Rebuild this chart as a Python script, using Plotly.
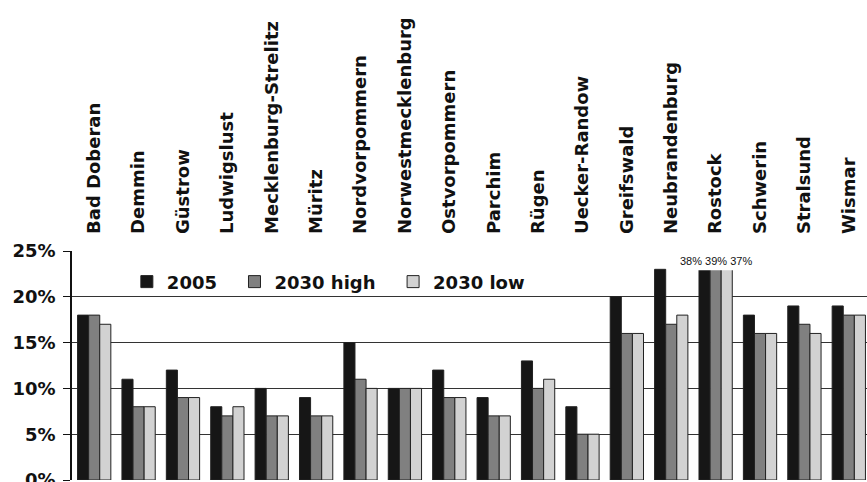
import plotly.graph_objects as go

districts = ["Bad Doberan", "Demmin", "Güstrow", "Ludwigslust", "Mecklenburg-Strelitz",
             "Müritz", "Nordvorpommern", "Norwestmecklenburg", "Ostvorpommern", "Parchim",
             "Rügen", "Uecker-Randow", "Greifswald", "Neubrandenburg", "Rostock",
             "Schwerin", "Stralsund", "Wismar"]
v2005 = [18, 11, 12, 8, 10, 9, 15, 10, 12, 9, 13, 8, 20, 23, 38, 18, 19, 19]
v2030_high = [18, 8, 9, 7, 7, 7, 11, 10, 9, 7, 10, 5, 16, 17, 39, 16, 17, 18]
v2030_low = [17, 8, 9, 8, 7, 7, 10, 10, 9, 7, 11, 5, 16, 18, 37, 16, 16, 18]
series_names = ["2005", "2030 high", "2030 low"]
y_ticks = [0, 5, 10, 15, 20, 25]
y_tick_labels = ["0%", "5%", "10%", "15%", "20%", "25%"]
broken_district = "Rostock"

FONT = "DejaVu Sans"
colors = ["#161616", "#808080", "#d2d2d2"]
PAD = "\u00a0\u00a0"

fig = go.Figure()
for name, vals, col in zip(series_names, [v2005, v2030_high, v2030_low], colors):
    fig.add_trace(go.Bar(
        x=districts, y=vals, name=name + PAD,
        marker=dict(color=col, line=dict(color="#222222", width=1)),
    ))

bi = districts.index(broken_district)
# white break box over the truncated bars
fig.add_shape(type="rect", xref="x", yref="paper",
              x0=bi - 0.81, x1=bi + 1.09, y0=22.9 / 25, y1=1.03,
              fillcolor="white", line=dict(width=0), layer="above")
label = " ".join(f"{v[bi]}%" for v in [v2005, v2030_high, v2030_low])
fig.add_annotation(x=bi, y=23.9, xref="x", yref="y", text=label, showarrow=False,
                   font=dict(family="Liberation Sans", size=11, color="#111"),
                   xanchor="center", yanchor="middle")

fig.update_layout(
    width=867, height=482,
    margin=dict(l=72, r=0, t=251, b=2, autoexpand=False),
    paper_bgcolor="white", plot_bgcolor="white",
    barmode="group", bargap=0.25, bargroupgap=0,
    font=dict(family=FONT, size=18, color="#111"),
    legend=dict(orientation="h", x=0.069, y=0.865, xanchor="left", yanchor="middle",
                font=dict(family=FONT, size=18, color="#111", weight="bold"),
                bgcolor="rgba(0,0,0,0)"),
    xaxis=dict(side="top", tickangle=-90, showgrid=False, showline=False,
               ticks="", ticklabelstandoff=16, range=[-0.5, 17.41], automargin=False,
               tickfont=dict(family=FONT, size=18, color="#111", weight="bold")),
    yaxis=dict(range=[0, 25], tickvals=y_ticks, ticktext=y_tick_labels,
               showgrid=True, gridcolor="#333", gridwidth=1, automargin=False,
               zeroline=False, showline=True, linecolor="#111", linewidth=1.5,
               ticks="outside", ticklen=7, tickcolor="#111", ticklabelstandoff=4,
               ticklabeloverflow="allow",
               tickfont=dict(family=FONT, size=18, color="#111", weight="bold")),
)

fig.write_html("out.html", config={"displayModeBar": False},
               post_script="document.body.style.margin='0';document.body.style.overflow='hidden';")
